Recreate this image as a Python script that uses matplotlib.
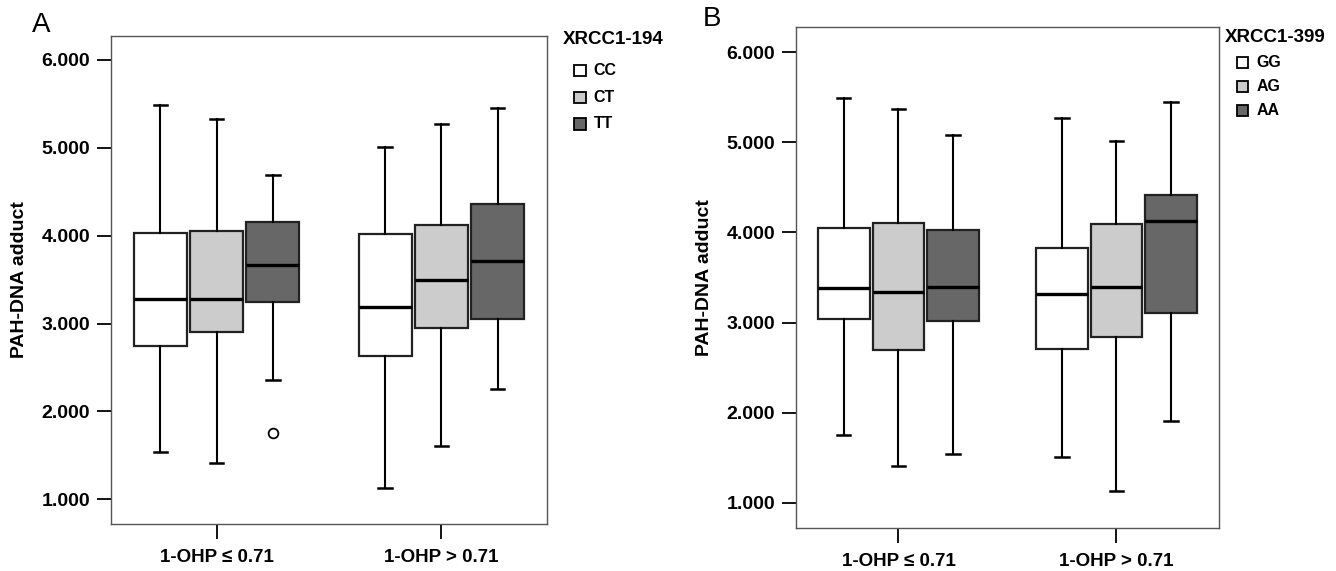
import matplotlib
matplotlib.use("Agg")
import matplotlib.pyplot as plt
from matplotlib.patches import Rectangle

plt.rcParams["font.family"] = ["Liberation Sans", "DejaVu Sans"]

# ---- data ----------------------------------------------------------------
groups = ["1-OHP \u2264 0.71", "1-OHP > 0.71"]
colors = ["#ffffff", "#cccccc", "#676767"]

# panel A: XRCC1-194 (CC, CT, TT) per group
a_genos = ["CC", "CT", "TT"]
a_whishi = [[5.48, 5.33, 4.69], [5.01, 5.27, 5.45]]
a_q3 = [[4.03, 4.05, 4.15], [4.02, 4.12, 4.36]]
a_med = [[3.28, 3.28, 3.66], [3.19, 3.50, 3.71]]
a_q1 = [[2.75, 2.90, 3.24], [2.63, 2.95, 3.05]]
a_whislo = [[1.54, 1.41, 2.36], [1.13, 1.61, 2.25]]
a_fliers = [[[], [], [1.75]], [[], [], []]]

# panel B: XRCC1-399 (GG, AG, AA) per group
b_genos = ["GG", "AG", "AA"]
b_whishi = [[5.49, 5.37, 5.08], [5.27, 5.02, 5.45]]
b_q3 = [[4.05, 4.11, 4.03], [3.83, 4.09, 4.42]]
b_med = [[3.38, 3.34, 3.40], [3.32, 3.39, 4.13]]
b_q1 = [[3.04, 2.69, 3.02], [2.71, 2.84, 3.11]]
b_whislo = [[1.75, 1.41, 1.54], [1.51, 1.13, 1.91]]
b_fliers = [[[], [], []], [[], [], []]]

yticks = [1, 2, 3, 4, 5, 6]


def draw_panel(ax, whishi, q3, med, q1, whislo, fliers, ylim):
    offsets = [-0.25, 0.0, 0.25]
    for g in range(len(groups)):
        for k in range(3):
            st = dict(med=med[g][k], q1=q1[g][k], q3=q3[g][k],
                      whislo=whislo[g][k], whishi=whishi[g][k],
                      fliers=fliers[g][k])
            ax.bxp([st], positions=[g + offsets[k]], widths=0.235,
                   patch_artist=True, showfliers=True,
                   boxprops=dict(facecolor=colors[k], edgecolor="#222222", lw=1.6),
                   medianprops=dict(color="black", lw=2.4),
                   whiskerprops=dict(color="black", lw=1.5),
                   capprops=dict(color="black", lw=1.8),
                   capwidths=0.06,
                   flierprops=dict(marker="o", markersize=7, markerfacecolor="white",
                                   markeredgecolor="black", markeredgewidth=1.3))
    ax.set_xlim(-0.47, 1.47)
    ax.set_ylim(*ylim)
    ax.set_xticks(range(len(groups)))
    ax.set_xticklabels(groups, fontsize=13.5, fontweight="bold")
    ax.set_yticks(yticks)
    ax.set_yticklabels([f"{v:.3f}" for v in yticks], fontsize=14, fontweight="bold")
    ax.tick_params(axis="y", length=10, width=1.3, pad=5)
    ax.tick_params(axis="x", length=11, width=1.3, pad=7)
    for sp in ax.spines.values():
        sp.set_color("#555555")
        sp.set_linewidth(1.0)
    ax.set_ylabel("PAH-DNA adduct", fontsize=14, fontweight="bold", labelpad=10)


def draw_legend(fig, x, y_title, ys, title, labels, sq=0.0085):
    fig.text(x, y_title, title, fontsize=13.5, fontweight="bold", va="center")
    for lab, yy, c in zip(labels, ys, colors):
        w = sq
        h = sq * 1336 / 571
        fig.patches.append(Rectangle((x + 0.009, yy - h / 2), w, h, facecolor=c,
                                     edgecolor="black", lw=1.3,
                                     transform=fig.transFigure, figure=fig))
        fig.text(x + 0.009 + w + 0.006, yy, lab, fontsize=11.5, fontweight="bold",
                 va="center")


fig = plt.figure(figsize=(13.36, 5.71), dpi=100)
axA = fig.add_axes([0.0831, 0.0823, 0.4094 - 0.0831, 0.937 - 0.0823])
axB = fig.add_axes([0.5958, 0.0753, 0.9124 - 0.5958, 0.9527 - 0.0753])

draw_panel(axA, a_whishi, a_q3, a_med, a_q1, a_whislo, a_fliers, (0.72, 6.27))
draw_panel(axB, b_whishi, b_q3, b_med, b_q1, b_whislo, b_fliers, (0.72, 6.28))

fig.text(0.024, 0.956, "A", fontsize=20, va="center")
fig.text(0.526, 0.967, "B", fontsize=20, va="center")

draw_legend(fig, 0.421, 0.930, [0.877, 0.829, 0.783], "XRCC1-194", a_genos)
draw_legend(fig, 0.917, 0.934, [0.890, 0.848, 0.807], "XRCC1-399", b_genos)

fig.savefig("out.png", dpi=100)
